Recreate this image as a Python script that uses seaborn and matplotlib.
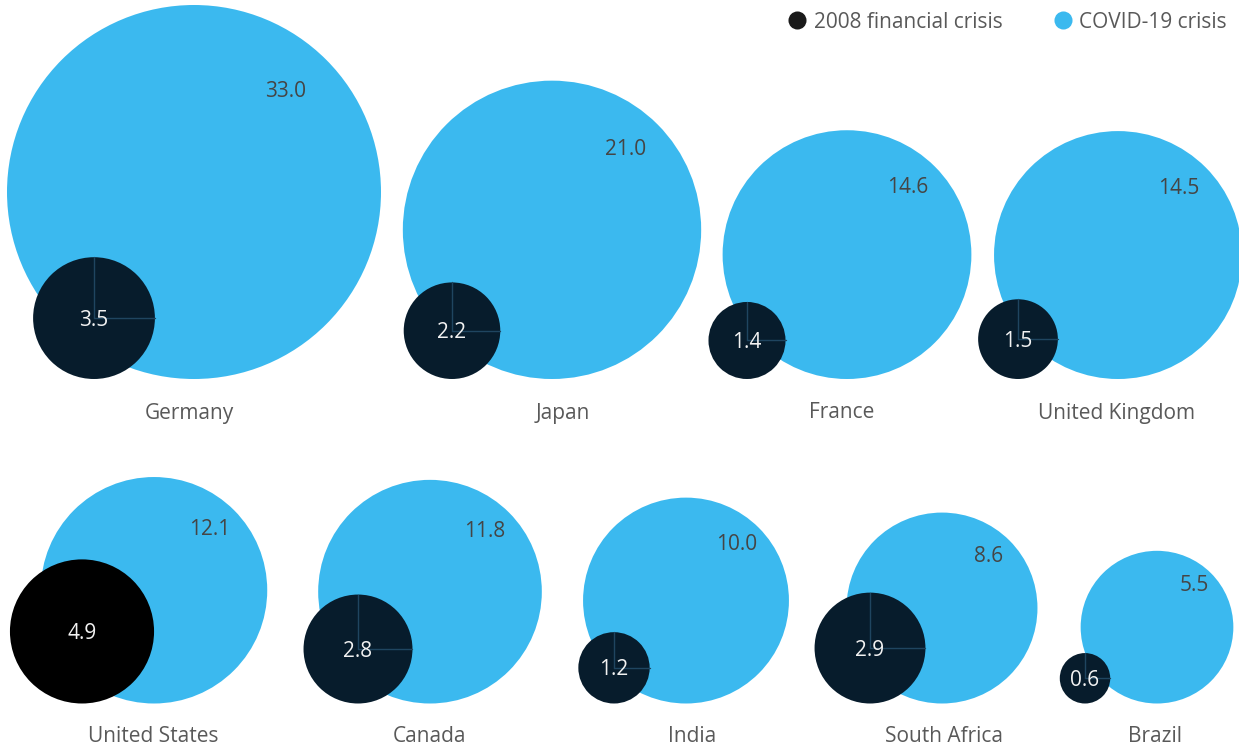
import numpy as np
import pandas as pd
import matplotlib
matplotlib.use("Agg")
import matplotlib.pyplot as plt
import seaborn as sns
from matplotlib.lines import Line2D

# ---- data -------------------------------------------------------------
countries = ["Germany", "Japan", "France", "United Kingdom",
             "United States", "Canada", "India", "South Africa", "Brazil"]
covid_crisis = [33.0, 21.0, 14.6, 14.5, 12.1, 11.8, 10.0, 8.6, 5.5]
financial_crisis = [3.5, 2.2, 1.4, 1.5, 4.9, 2.8, 1.2, 2.9, 0.6]
series_names = ["2008 financial crisis", "COVID-19 crisis"]

# ---- layout (canvas pixel coordinates) ---------------------------------
W, H, DPI = 1239, 750, 100
grid_row = [0, 0, 0, 0, 1, 1, 1, 1, 1]
center_x = [194, 552, 847, 1118, 154, 430, 686, 942, 1157]
label_x = [189, 563, 842, 1116, 153, 430, 692, 944, 1155]
baseline = [379, 703.5]
label_y = [413, 736]
inner_shift = [-100, -72]
px_per_unit = 187 / np.sqrt(33.0)          # bubble area proportional to value
max_value = 33.0

BLUE = "#3bb9ef"
NAVY = "#071c2c"
BLACK = "#000000"
LINE = "#1f4560"
GREY_TXT = "#595959"
VAL_TXT = "#454545"

sns.set_theme(style="white")
plt.rcParams["font.family"] = ["Open Sans", "DejaVu Sans"]


def radius(v):
    return px_per_unit * np.sqrt(v)


rows = []
for i, c in enumerate(countries):
    r = grid_row[i]
    rb = radius(covid_crisis[i])
    rows.append(dict(country=c, series=series_names[1], value=covid_crisis[i],
                     x=center_x[i], y=baseline[r] - rb, tone="covid"))
for i, c in enumerate(countries):
    r = grid_row[i]
    rk = radius(financial_crisis[i])
    tone = "fin_hi" if c == "United States" else "fin"
    rows.append(dict(country=c, series=series_names[0], value=financial_crisis[i],
                     x=center_x[i] + inner_shift[r], y=baseline[r] - rk, tone=tone))
df = pd.DataFrame(rows)

fig = plt.figure(figsize=(W / DPI, H / DPI), dpi=DPI)
ax = fig.add_axes([0, 0, 1, 1])

# marker area in pt^2 for the largest value
pt_per_px = 72.0 / DPI
s_max = (2 * radius(max_value) * pt_per_px) ** 2

sns.scatterplot(data=df, x="x", y="y", hue="tone",
                palette={"covid": BLUE, "fin": NAVY, "fin_hi": BLACK},
                size="value", sizes=(0, s_max), size_norm=(0, max_value),
                linewidth=0, legend=False, ax=ax, zorder=2)

ax.set_xlim(0, W)
ax.set_ylim(H, 0)
ax.set_axis_off()

fs = 15
for i, c in enumerate(countries):
    r = grid_row[i]
    rb = radius(covid_crisis[i])
    cx, cy = center_x[i], baseline[r] - rb
    ax.text(cx + 0.49 * rb, cy - 0.54 * rb, f"{covid_crisis[i]:.1f}",
            ha="center", va="center", fontsize=fs, color=VAL_TXT, zorder=3)

    rk = radius(financial_crisis[i])
    kx, ky = center_x[i] + inner_shift[r], baseline[r] - rk
    if c != "United States":
        ax.plot([kx, kx], [ky - rk, ky], color=LINE, lw=1.0, zorder=3)
        ax.plot([kx, kx + rk], [ky, ky], color=LINE, lw=1.0, zorder=3)
    ax.text(kx, ky + 2, f"{financial_crisis[i]:.1f}", ha="center", va="center",
            fontsize=fs, color="#f2f2f2", zorder=4)

    ax.text(label_x[i], label_y[r], c, ha="center", va="center",
            fontsize=fs, color=GREY_TXT, zorder=3)

handles = [Line2D([], [], ls="", marker="o", markersize=13, color="#1a1a1a",
                  markeredgewidth=0),
           Line2D([], [], ls="", marker="o", markersize=13, color=BLUE,
                  markeredgewidth=0)]
leg = ax.legend(handles, series_names, loc="center right", ncol=2,
                bbox_to_anchor=(1227 / W, 1 - 22 / H), frameon=False, fontsize=fs,
                handletextpad=0.3, columnspacing=2.4, borderaxespad=0.0,
                borderpad=0.0, handlelength=1.0)
for t in leg.get_texts():
    t.set_color(GREY_TXT)

fig.savefig("out.png", dpi=DPI, facecolor="white")
